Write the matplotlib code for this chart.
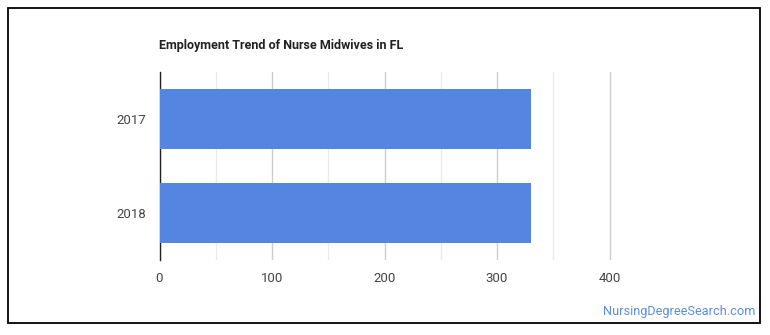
import matplotlib.pyplot as plt
from matplotlib.patches import Rectangle
from matplotlib.ticker import MultipleLocator

# Data
years = ["2017", "2018"]
employment = [330, 330]
x_ticks = [0, 100, 200, 300, 400]

W, H = 770, 335
plt.rcParams['font.family'] = ['Roboto', 'DejaVu Sans']

fig = plt.figure(figsize=(W / 100, H / 100), dpi=100)
fig.patch.set_facecolor('white')

# plot area in pixels: x from 159.5 (0) with 400 at 609.5, y 72..260
xmax = 440
ax = fig.add_axes([159.5 / W, (H - 260) / H, 450 * xmax / 400 / W, 188 / H])
ax.barh(range(len(years)), employment, height=0.64, color='#5385e1', zorder=3)
ax.set_ylim(len(years) - 0.5, -0.5)
ax.set_xlim(0, xmax)

ax.set_yticks(range(len(years)))
ax.set_yticklabels(years)
ax.set_xticks(x_ticks)
ax.xaxis.set_minor_locator(MultipleLocator(50))
ax.set_xticks([50, 150, 250, 350], minor=True)
ax.grid(axis='x', which='major', color='#cccccc', linewidth=1, zorder=0)
ax.grid(axis='x', which='minor', color='#ebebeb', linewidth=1, zorder=0)
ax.tick_params(axis='both', which='both', length=0, labelsize=9.5, labelcolor='#444444')
ax.tick_params(axis='x', pad=9)
ax.tick_params(axis='y', pad=9.5)

for s in ['top', 'right', 'bottom']:
    ax.spines[s].set_visible(False)
ax.spines['left'].set_color('#222222')
ax.spines['left'].set_linewidth(1)

fig.text(159 / W, 1 - 45 / H, "Employment Trend of Nurse Midwives in FL",
         fontsize=9, fontweight='bold', color='#222222', va='center', ha='left')
fig.text(755 / W, 1 - 312 / H, "NursingDegreeSearch.com",
         fontsize=9.2, color='#5b8fdb', va='center', ha='right')

fig.patches.append(Rectangle((8 / W, 1 - 323 / H), 752 / W, 315 / H,
                             transform=fig.transFigure, fill=False,
                             edgecolor='black', linewidth=1.3))

fig.savefig('out.png', dpi=100)
